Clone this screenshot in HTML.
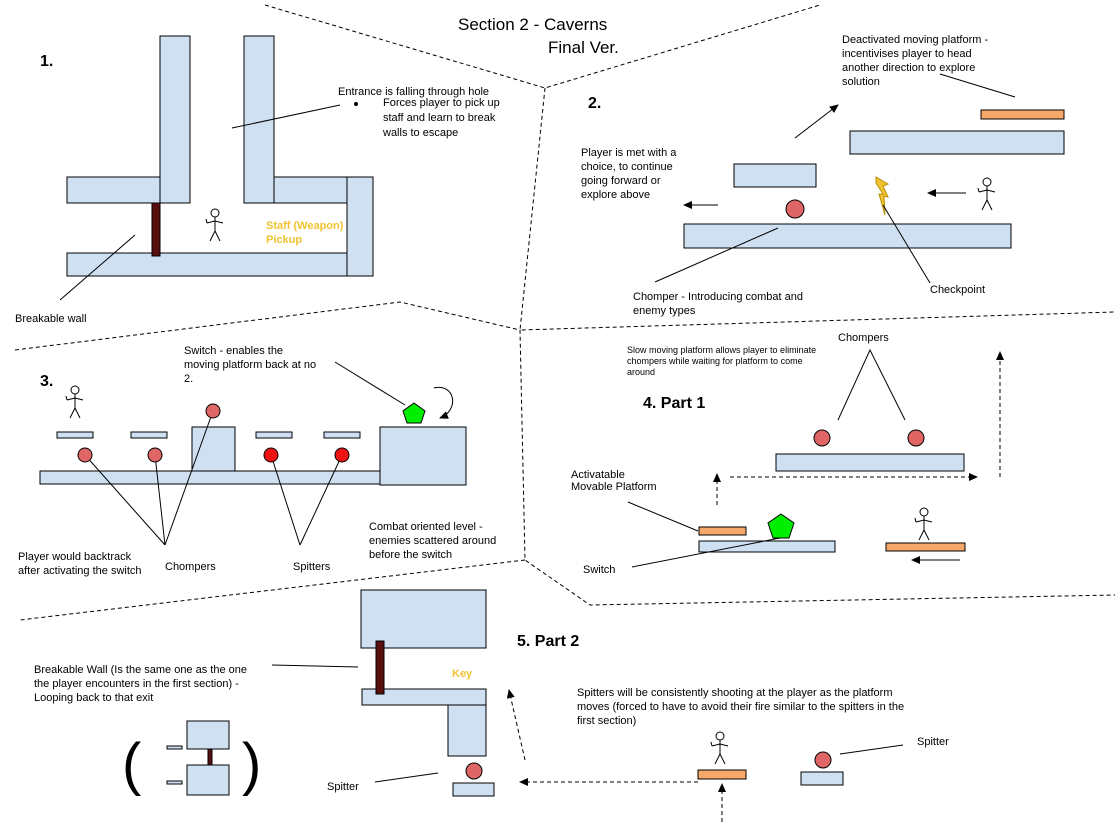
<!DOCTYPE html>
<html><head><meta charset="utf-8"><style>
html,body{margin:0;padding:0;background:#fff;width:1115px;height:822px;overflow:hidden}
svg{display:block}
text{font-family:"Liberation Sans",Arial,sans-serif;font-size:11px;fill:#000}
.b{fill:#cfe0f2;stroke:#000;stroke-width:1}
.o{fill:#f5a867;stroke:#000;stroke-width:1}
.r{fill:#e06666;stroke:#000;stroke-width:1}
.rr{fill:#ee1111;stroke:#000;stroke-width:1}
.w{fill:#5a0f0f;stroke:#000;stroke-width:1}
.l{stroke:#000;stroke-width:1;fill:none}
.d{stroke:#000;stroke-width:1;fill:none;stroke-dasharray:4 3}
.h{font-weight:bold;font-size:16px}
.y{fill:#f1c232;font-weight:bold}
</style></head><body>
<svg width="1115" height="822" viewBox="0 0 1115 822">
<defs>
<marker id="a" markerWidth="10" markerHeight="10" refX="8" refY="4" orient="auto" markerUnits="userSpaceOnUse"><path d="M0,0 L9,4 L0,8 z" fill="#000"/></marker>
<g id="man" fill="none" stroke="#000" stroke-width="1">
<circle cx="0" cy="-12" r="4"/><path d="M0,-8 L0,6 M-8,-2 L0,-4 L8,-2 M0,6 L-5,16 M0,6 L5,16 M-8,-2 L-9,-6"/>
</g>
</defs>
<!-- dashed section dividers -->
<path class="d" d="M265,5 L545,88 L820,5 M545,88 L520,330 L1115,312 M15,350 L400,302 L520,330 L525,560 L590,605 L1115,595 M525,560 L20,620"/>
<text x="458" y="30" style="font-size:17px">Section 2 - Caverns</text>
<text x="548" y="53" style="font-size:17px">Final Ver.</text>

<!-- Section 1 -->
<text class="h" x="40" y="66">1.</text>
<rect class="b" x="160" y="36" width="30" height="167"/>
<rect class="b" x="244" y="36" width="30" height="167"/>
<rect class="b" x="67" y="177" width="93" height="26"/>
<rect class="b" x="274" y="177" width="73" height="26"/>
<rect class="b" x="347" y="177" width="26" height="99"/>
<rect class="b" x="67" y="253" width="280" height="23"/>
<rect class="w" x="152" y="203" width="8" height="53"/>
<use href="#man" x="215" y="225"/>
<text class="y" x="266" y="229">Staff (Weapon)</text>
<text class="y" x="266" y="243">Pickup</text>
<text x="338" y="95">Entrance is falling through hole</text>
<circle cx="356" cy="104" r="2"/>
<text x="383" y="106">Forces player to pick up</text>
<text x="383" y="121">staff and learn to break</text>
<text x="383" y="136">walls to escape</text>
<path class="l" d="M232,128 L340,105"/>
<text x="15" y="322">Breakable wall</text>
<path class="l" d="M60,300 L135,235"/>

<!-- Section 2 -->
<text class="h" x="588" y="108">2.</text>
<text x="842" y="43">Deactivated moving platform -</text>
<text x="842" y="57">incentivises player to head</text>
<text x="842" y="71">another direction to explore</text>
<text x="842" y="85">solution</text>
<path class="l" d="M940,74 L1015,97"/>
<rect class="o" x="981" y="110" width="83" height="9"/>
<rect class="b" x="850" y="131" width="214" height="23"/>
<path class="l" d="M795,138 L838,105" marker-end="url(#a)"/>
<rect class="b" x="734" y="164" width="82" height="23"/>
<circle class="r" cx="795" cy="209" r="9"/>
<path d="M876,177 L888,184 L883,186 L888,197 L884,196 L885,215 L879,194 L883,194 L876,183 z" fill="#f1c232" stroke="#b59000" stroke-width="1"/>
<path class="l" d="M966,193 L928,193" marker-end="url(#a)"/>
<use href="#man" x="987" y="194"/>
<rect class="b" x="684" y="224" width="327" height="24"/>
<path class="l" d="M718,205 L684,205" marker-end="url(#a)"/>
<text x="581" y="156">Player is met with a</text>
<text x="581" y="170">choice, to continue</text>
<text x="581" y="184">going forward or</text>
<text x="581" y="198">explore above</text>
<path class="l" d="M655,282 L778,228 M930,283 L883,205"/>
<text x="633" y="300">Chomper - Introducing combat and</text>
<text x="633" y="314">enemy types</text>
<text x="930" y="293">Checkpoint</text>

<!-- Section 3 -->
<text class="h" x="40" y="386">3.</text>
<use href="#man" x="75" y="402"/>
<rect class="b" x="57" y="432" width="36" height="6"/>
<rect class="b" x="131" y="432" width="36" height="6"/>
<rect class="b" x="256" y="432" width="36" height="6"/>
<rect class="b" x="324" y="432" width="36" height="6"/>
<rect class="b" x="192" y="427" width="43" height="44"/>
<rect class="b" x="380" y="427" width="86" height="58"/>
<rect class="b" x="40" y="471" width="340" height="13"/>
<path class="l" d="M85,455 L165,545 M155,455 L165,545 M213,411 L165,545 M271,455 L300,545 M342,455 L300,545"/>
<circle class="r" cx="85" cy="455" r="7"/>
<circle class="r" cx="155" cy="455" r="7"/>
<circle class="r" cx="213" cy="411" r="7"/>
<circle class="rr" cx="271" cy="455" r="7"/>
<circle class="rr" cx="342" cy="455" r="7"/>
<polygon points="414,403 425,411 421,423 407,423 403,411" fill="#00ee00" stroke="#000"/>
<path class="l" d="M434,388 C455,383 460,410 440,418" marker-end="url(#a)"/>
<text x="184" y="354">Switch - enables the</text>
<text x="184" y="368">moving platform back at no</text>
<text x="184" y="382">2.</text>
<path class="l" d="M335,362 L405,405"/>
<text x="18" y="560">Player would backtrack</text>
<text x="18" y="574">after activating the switch</text>
<text x="165" y="570">Chompers</text>
<text x="293" y="570">Spitters</text>
<text x="369" y="530">Combat oriented level -</text>
<text x="369" y="544">enemies scattered around</text>
<text x="369" y="558">before the switch</text>

<!-- Section 4 -->
<text x="627" y="353" style="font-size:9px">Slow moving platform allows player to eliminate</text>
<text x="627" y="364" style="font-size:9px">chompers while waiting for platform to come</text>
<text x="627" y="375" style="font-size:9px">around</text>
<text class="h" x="643" y="408">4. Part 1</text>
<text x="838" y="341">Chompers</text>
<path class="l" d="M838,420 L870,350 L905,420"/>
<circle class="r" cx="822" cy="438" r="8"/>
<circle class="r" cx="916" cy="438" r="8"/>
<rect class="b" x="776" y="454" width="188" height="17"/>
<path class="d" d="M1000,477 L1000,352" marker-end="url(#a)"/>
<path class="d" d="M730,477 L977,477" marker-end="url(#a)"/>
<path class="d" d="M717,505 L717,474" marker-end="url(#a)"/>
<text x="571" y="478">Activatable</text>
<text x="571" y="490">Movable Platform</text>
<path class="l" d="M628,502 L698,531"/>
<rect class="o" x="699" y="527" width="47" height="8"/>
<rect class="b" x="699" y="541" width="136" height="11"/>
<polygon points="781,514 794,523 789,538 773,538 768,523" fill="#00ee00" stroke="#000"/>
<text x="583" y="573">Switch</text>
<path class="l" d="M632,567 L780,538"/>
<use href="#man" x="924" y="524"/>
<rect class="o" x="886" y="543" width="79" height="8"/>
<path class="l" d="M960,560 L912,560" marker-end="url(#a)"/>

<!-- Section 5 -->
<rect class="b" x="361" y="590" width="125" height="58"/>
<rect class="b" x="362" y="689" width="124" height="16"/>
<rect class="b" x="448" y="705" width="38" height="51"/>
<rect class="w" x="376" y="641" width="8" height="53"/>
<text class="y" x="452" y="677">Key</text>
<text class="h" x="517" y="646">5. Part 2</text>
<text x="34" y="673">Breakable Wall (Is the same one as the one</text>
<text x="34" y="687">the player encounters in the first section) -</text>
<text x="34" y="701">Looping back to that exit</text>
<path class="l" d="M272,665 L358,667"/>
<text x="122" y="784" style="font-size:58px">(</text>
<text x="242" y="784" style="font-size:58px">)</text>
<rect class="b" x="187" y="721" width="42" height="28"/>
<rect class="b" x="187" y="765" width="42" height="30"/>
<rect class="w" x="208" y="749" width="4" height="16"/>
<rect class="b" x="167" y="746" width="15" height="3"/>
<rect class="b" x="167" y="781" width="15" height="3"/>
<circle class="r" cx="474" cy="771" r="8"/>
<rect class="b" x="453" y="783" width="41" height="13"/>
<text x="327" y="790">Spitter</text>
<path class="l" d="M375,782 L438,773"/>
<path class="d" d="M698,782 L520,782" marker-end="url(#a)"/>
<path class="d" d="M525,760 L509,690" marker-end="url(#a)"/>
<text x="577" y="696">Spitters will be consistently shooting at the player as the platform</text>
<text x="577" y="710">moves (forced to have to avoid their fire similar to the spitters in the</text>
<text x="577" y="724">first section)</text>
<use href="#man" x="720" y="748"/>
<rect class="o" x="698" y="770" width="48" height="9"/>
<path class="d" d="M722,822 L722,784" marker-end="url(#a)"/>
<circle class="r" cx="823" cy="760" r="8"/>
<rect class="b" x="801" y="772" width="42" height="13"/>
<path class="l" d="M840,754 L903,745"/>
<text x="917" y="745">Spitter</text>
</svg>
</body></html>
